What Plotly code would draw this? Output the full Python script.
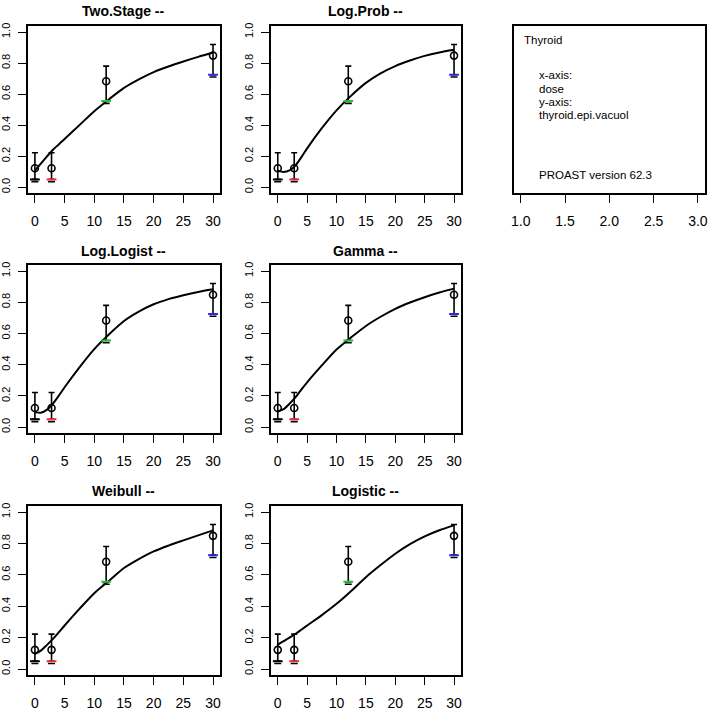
import plotly.graph_objects as go

# ---------------- data ----------------
dose = [0, 2.8, 12, 30]
resp = [0.122, 0.122, 0.683, 0.848]
ci_upper = [0.222, 0.222, 0.78, 0.92]
ci_lower = [0.05, 0.05, 0.555, 0.725]
lower_mark = [0.035, 0.035, 0.54, 0.71]
lower_colors = ["black", "#e8303a", "#22c032", "#2a2ae0"]

curve_x = [0, 1, 2, 3, 4, 5, 7.5, 10, 12.5, 15, 17.5, 20, 22.5, 25, 27.5, 30]
curve_two_stage = [0.107, 0.152, 0.197, 0.24, 0.275, 0.31, 0.40, 0.49, 0.567, 0.64, 0.695, 0.742, 0.778, 0.81, 0.84, 0.868]
curve_log_prob = [0.107, 0.098, 0.108, 0.14, 0.192, 0.25, 0.38, 0.495, 0.59, 0.672, 0.733, 0.78, 0.816, 0.846, 0.868, 0.885]
curve_log_logist = [0.096, 0.092, 0.11, 0.149, 0.2, 0.255, 0.383, 0.5, 0.595, 0.68, 0.74, 0.787, 0.82, 0.845, 0.866, 0.883]
curve_gamma = [0.1, 0.115, 0.15, 0.19, 0.24, 0.287, 0.395, 0.497, 0.575, 0.648, 0.707, 0.758, 0.798, 0.832, 0.862, 0.887]
curve_weibull = [0.096, 0.117, 0.152, 0.19, 0.233, 0.277, 0.383, 0.483, 0.562, 0.643, 0.70, 0.749, 0.786, 0.819, 0.851, 0.883]
curve_logistic = [0.155, 0.177, 0.2, 0.223, 0.25, 0.277, 0.343, 0.415, 0.497, 0.585, 0.662, 0.734, 0.795, 0.845, 0.884, 0.915]

model_names = ["Two.Stage --", "Log.Prob --", "Log.Logist --", "Gamma --", "Weibull --", "Logistic --"]
model_curves = [curve_two_stage, curve_log_prob, curve_log_logist, curve_gamma, curve_weibull, curve_logistic]

x_ticks = [0, 5, 10, 15, 20, 25, 30]
y_ticks = [0.0, 0.2, 0.4, 0.6, 0.8, 1.0]
info_ticks = [1.0, 1.5, 2.0, 2.5, 3.0]
info_lines = ["x-axis:", "dose", "y-axis:", "thyroid.epi.vacuol"]

# ---------------- layout geometry ----------------
W, H = 709, 711
col_dom = [[25 / W, 219 / W], [270 / W, 462 / W], [515 / W, 708 / W]]
row_dom = [[1 - 192 / H, 1 - 23 / H], [1 - 434 / H, 1 - 264 / H], [1 - 678 / H, 1 - 507 / H]]
title_y = [1 - 8 / H, 1 - 250 / H, 1 - 492 / H]
panel_pos = [(0, 0), (0, 1), (1, 0), (1, 1), (2, 0), (2, 1)]

FONT = "Liberation Sans, Arial, sans-serif"

fig = go.Figure()
layout = dict(
    width=W, height=H, margin=dict(l=0, r=0, t=0, b=0),
    paper_bgcolor="white", plot_bgcolor="white", showlegend=False,
    font=dict(family=FONT, color="black"),
)
annotations = []

def axis_common():
    return dict(showgrid=False, zeroline=False, showline=True, mirror=True,
                linecolor="black", linewidth=1.5, ticks="outside", ticklen=8,
                tickwidth=1.3, tickcolor="black", ticklabeloverflow="allow")

for i, (name, cv) in enumerate(zip(model_names, model_curves)):
    r, c = panel_pos[i]
    n = i + 1
    xa = "x" if n == 1 else f"x{n}"
    ya = "y" if n == 1 else f"y{n}"
    fig.add_trace(go.Scatter(x=curve_x, y=cv, mode="lines",
                             line=dict(color="black", width=2, shape="spline", smoothing=0.8),
                             xaxis=xa, yaxis=ya, hoverinfo="skip"))
    fig.add_trace(go.Scatter(
        x=dose, y=resp, mode="markers",
        marker=dict(symbol="circle-open", size=7, color="black", line=dict(width=1.6, color="black")),
        error_y=dict(type="data", symmetric=False,
                     array=[u - v for u, v in zip(ci_upper, resp)],
                     arrayminus=[v - l for v, l in zip(resp, ci_lower)],
                     color="black", thickness=1.6, width=3),
        xaxis=xa, yaxis=ya))
    fig.add_trace(go.Scatter(
        x=dose, y=lower_mark, mode="markers",
        marker=dict(symbol="line-ew", size=5, line=dict(width=1.6, color="black")),
        xaxis=xa, yaxis=ya))
    fig.add_trace(go.Scatter(
        x=dose, y=ci_lower, mode="markers",
        marker=dict(symbol="line-ew", size=7, line=dict(width=2, color=lower_colors)),
        xaxis=xa, yaxis=ya))

    xkey = "xaxis" if n == 1 else f"xaxis{n}"
    ykey = "yaxis" if n == 1 else f"yaxis{n}"
    layout[xkey] = dict(axis_common(), domain=col_dom[c], anchor=ya, range=[-1.2, 31.2],
                        tickvals=x_ticks, ticktext=[str(t) for t in x_ticks],
                        tickfont=dict(size=14, family=FONT), ticklabelstandoff=6)
    layout[ykey] = dict(axis_common(), domain=row_dom[r], anchor=xa, range=[-0.04, 1.04],
                        tickvals=y_ticks, ticktext=[f"{t:.1f}" for t in y_ticks],
                        tickangle=-90, tickfont=dict(size=11, family=FONT), ticklabelstandoff=4)
    annotations.append(dict(text=f"<b>{name}</b>", xref="paper", yref="paper",
                            x=sum(col_dom[c]) / 2, y=title_y[r], xanchor="center", yanchor="middle",
                            showarrow=False, font=dict(size=14, family=FONT, color="black")))

# info panel
fig.add_trace(go.Scatter(x=[None], y=[None], xaxis="x7", yaxis="y7", mode="markers"))
layout["xaxis7"] = dict(axis_common(), domain=col_dom[2], anchor="y7", range=[0.92, 3.08],
                        tickvals=info_ticks, ticktext=[f"{t:.1f}" for t in info_ticks],
                        tickfont=dict(size=14, family=FONT), ticklabelstandoff=6)
layout["yaxis7"] = dict(showgrid=False, zeroline=False, showline=True, mirror=True,
                        linecolor="black", linewidth=1.5, ticks="", showticklabels=False,
                        domain=row_dom[0], anchor="x7", range=[0, 1])

annotations.append(dict(text="Thyroid", xref="paper", yref="paper", x=523 / W, y=1 - 37 / H,
                        xanchor="left", yanchor="middle", showarrow=False,
                        font=dict(size=11.5, family=FONT, color="black")))
for k, line in enumerate(info_lines):
    annotations.append(dict(text=line, xref="paper", yref="paper", x=539 / W, y=1 - (73 + 13.4 * k) / H,
                            xanchor="left", yanchor="middle", showarrow=False,
                            font=dict(size=11.5, family=FONT, color="black")))
annotations.append(dict(text="PROAST version 62.3", xref="paper", yref="paper", x=539 / W, y=1 - 173 / H,
                        xanchor="left", yanchor="middle", showarrow=False,
                        font=dict(size=11.5, family=FONT, color="black")))

layout["annotations"] = annotations
fig.update_layout(**layout)
fig.write_html("out.html", config={"displayModeBar": False},
               post_script="document.body.style.margin='0';document.body.style.padding='0';document.body.style.overflow='hidden';")
